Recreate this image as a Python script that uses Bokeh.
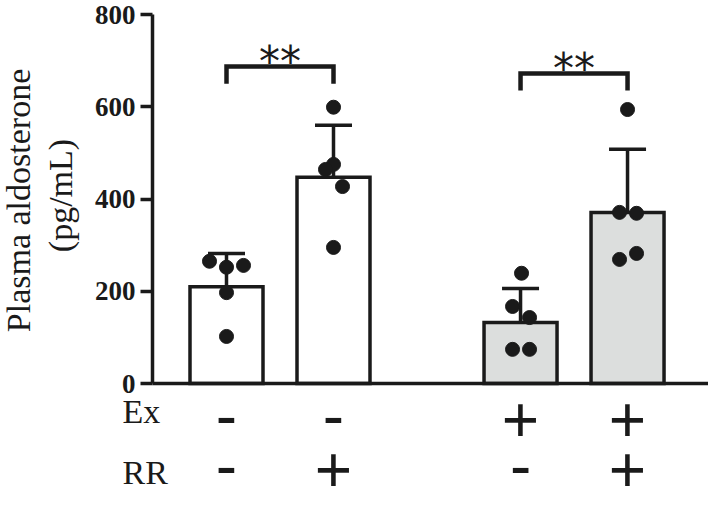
import math
from bokeh.plotting import figure
from bokeh.models import Range1d, FixedTicker
from bokeh.core.properties import value
from bokeh.embed import file_html
from bokeh.resources import INLINE

# ---------------- data ----------------
groups = ["Ex- RR-", "Ex- RR+", "Ex+ RR-", "Ex+ RR+"]
ex_signs = ["-", "-", "+", "+"]
rr_signs = ["-", "+", "-", "+"]
means = [210, 447, 132, 371]
sds = [72, 113, 74, 137]
points = [
    [265, 252, 256, 197, 102],
    [599, 475, 464, 427, 295],
    [239, 167, 143, 74, 74],
    [594, 371, 369, 269, 282],
]
sig_pairs = [(0, 1), (2, 3)]
sig_labels = ["**", "**"]
y_ticks = [0, 200, 400, 600, 800]
row_names = ["Ex", "RR"]

# ---------------- layout / style ----------------
INK = "#1a1a1a"
GREY = "#dcdedd"
fills = ["white", "white", GREY, GREY]
PX = 107.0                    # pixels per x unit
YPX = 369.0 / 800.0           # pixels per y unit
jitter_px = [[-17, 0, 17, 0, 0], [0, 0, -8, 9, 0], [1, -8, 9, -8, 9], [0, -8, 9, -8, 9]]
group_gap = 0.748
xs = [i + 1 + (group_gap if i >= 2 else 0) for i in range(len(groups))]
bar_w = 73 / PX
cap_half = 18.5 / PX
bracket_top = [687, 672]
bracket_drop = 37

W, H = 708, 508
TOP, BOTTOM = 0, 6
frame_h = H - TOP - BOTTOM


def sx(px_):
    """page pixel -> x data"""
    return 1 + (px_ - 226) / PX


def sy(py_):
    """page pixel -> y data"""
    return (383 - py_) / YPX


x_start = sx(0)
x_end = sx(W)
y_end = sy(TOP)
y_start = y_end - frame_h / YPX
axis_x = sx(152)

p = figure(width=W, height=H, output_backend="svg", toolbar_location=None,
           x_range=Range1d(x_start, x_end), y_range=Range1d(y_start, y_end),
           min_border_left=0, min_border_right=0,
           min_border_top=TOP, min_border_bottom=BOTTOM)
p.outline_line_color = None
p.grid.visible = False
p.background_fill_color = "white"
p.border_fill_color = "white"

ax = p.yaxis[0]
ax.fixed_location = axis_x
ax.ticker = FixedTicker(ticks=y_ticks, minor_ticks=[])
ax.bounds = (0, 800)
ax.axis_line_width = 3.5
ax.axis_line_color = INK
ax.major_tick_line_width = 3.5
ax.major_tick_line_color = INK
ax.major_tick_out = 12
ax.major_tick_in = 0
ax.minor_tick_line_color = None
ax.major_label_text_font = "Liberation Serif"
ax.major_label_text_font_style = "bold"
ax.major_label_text_font_size = "27px"
ax.major_label_text_color = INK
ax.major_label_standoff = 5

bx = p.xaxis[0]
bx.fixed_location = 0
bx.bounds = (axis_x, x_end)
bx.ticker = FixedTicker(ticks=[], minor_ticks=[])
bx.axis_line_width = 3.5
bx.axis_line_color = INK
bx.major_tick_line_color = None
bx.minor_tick_line_color = None
bx.major_label_text_font_size = "0px"

# bars
p.vbar(x=xs, top=means, bottom=0, width=bar_w, fill_color=fills,
       line_color=INK, line_width=3.5, line_join="miter")

# error bars (upper only)
tops = [m + s for m, s in zip(means, sds)]
p.segment(x0=xs, y0=means, x1=xs, y1=tops, line_color=INK, line_width=3.5)
p.segment(x0=[x - cap_half for x in xs], y0=tops, x1=[x + cap_half for x in xs], y1=tops,
          line_color=INK, line_width=3.5)

# points
px, py = [], []
for i, vals in enumerate(points):
    for v, j in zip(vals, jitter_px[i]):
        px.append(xs[i] + j / PX)
        py.append(v)
p.scatter(x=px, y=py, size=14, fill_color=INK, line_color=INK)

# significance brackets
for (a, b), h, lab in zip(sig_pairs, bracket_top, sig_labels):
    p.line(x=[xs[a], xs[a], xs[b], xs[b]], y=[h - bracket_drop, h, h, h - bracket_drop],
           line_color=INK, line_width=4.5, line_join="miter")
    p.text(x=[(xs[a] + xs[b]) / 2], y=[h + 12], text=[lab], text_align="center",
           text_baseline="middle",
           text_font=value("DejaVu Sans"), text_font_size="42px", text_color=INK)

# condition rows ("-" sits a little lower in the font than "+", so lift it)
for row_py, signs in [(419, ex_signs), (469, rr_signs)]:
    for sign, lift in [("+", 0), ("-", 4)]:
        sel = [x for x, s in zip(xs, signs) if s == sign]
        p.text(x=sel, y=[sy(row_py - lift)] * len(sel), text=[sign] * len(sel),
               text_align="center", text_baseline="middle",
               text_font=value("Liberation Sans"), text_font_size="64px", text_color=INK)

for name, mid_px in zip(row_names, [411, 472]):
    p.text(x=[sx(122)], y=[sy(mid_px)], text=[name],
           text_align="left", text_baseline="middle",
           text_font=value("Liberation Serif"), text_font_size="34px", text_color=INK)

# y axis title (two lines)
for txt, cx, cy in [("Plasma aldosterone", 17.5, 200), ("(pg/mL)", 60, 195)]:
    p.text(x=[sx(cx)], y=[sy(cy)], text=[txt], angle=math.pi / 2,
           text_align="center", text_baseline="middle",
           text_font=value("Liberation Serif"), text_font_size="34px", text_color=INK)

open("out.html", "w").write(file_html(p, INLINE))
